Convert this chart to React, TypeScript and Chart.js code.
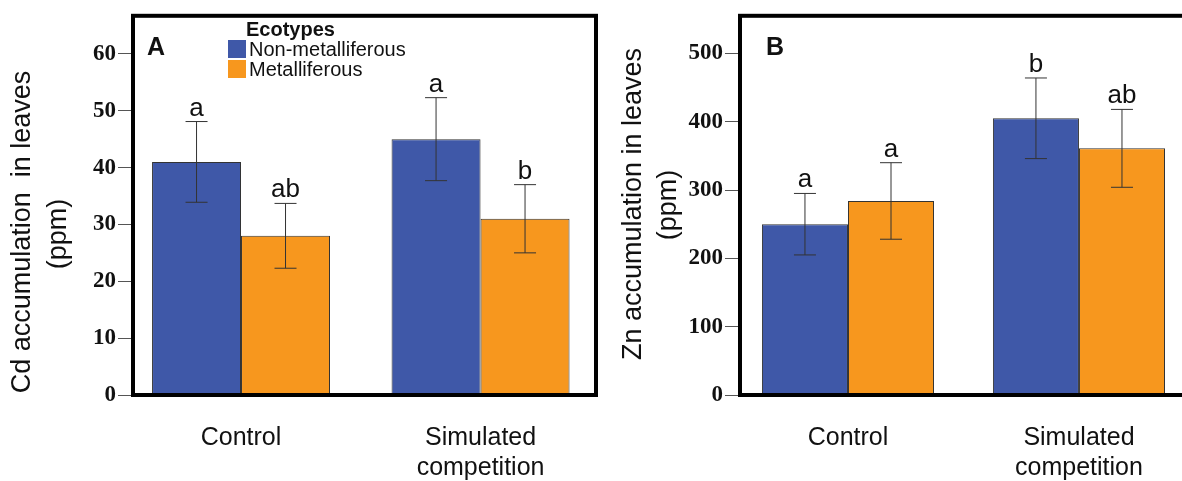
import React, { useEffect, useRef } from "react";
import { Chart, registerables } from "chart.js";

Chart.register(...registerables);

// ---------- Data ----------
const categories: (string | string[])[] = ["Control", ["Simulated", "competition"]];
const seriesNames = ["Non-metalliferous", "Metalliferous"];
const seriesColors = ["#3F58A8", "#F7971E"];

// Panel A: Cd
const cdNonMet = [41, 45];
const cdMet = [28, 31];
const cdNonMetErr = [7.1, 7.3];
const cdMetErr = [5.7, 6.0];
const cdNonMetLetters = ["a", "a"];
const cdMetLetters = ["ab", "b"];
const cdTicks = [0, 10, 20, 30, 40, 50, 60];

// Panel B: Zn
const znNonMet = [250, 405];
const znMet = [284, 361];
const znNonMetErr = [45, 59];
const znMetErr = [56, 57];
const znNonMetLetters = ["a", "b"];
const znMetLetters = ["a", "ab"];
const znTicks = [0, 100, 200, 300, 400, 500];

const SANS = "'Liberation Sans', Arial, sans-serif";
const SERIF = "'Liberation Serif', 'Times New Roman', serif";

type PanelProps = {
  left: number;
  width: number;
  axisWidth: number;
  padRight: number;
  yMax: number;
  xMin: number;
  xMax: number;
  ticks: number[];
  nonMet: number[];
  met: number[];
  nonMetErr: number[];
  metErr: number[];
  nonMetLetters: string[];
  metLetters: string[];
  catPct: number;
  panelLabel: string;
  panelLabelX: number;
  titleLines: string[];
  titleX: number[];
  titleY: number[];
  showLegend: boolean;
};

function Panel(p: PanelProps) {
  const ref = useRef<HTMLCanvasElement | null>(null);
  useEffect(() => {
    if (!ref.current) return;
    const errs = [p.nonMetErr, p.metErr];
    const letters = [p.nonMetLetters, p.metLetters];
    const overlay = {
      id: "overlay",
      afterDatasetsDraw(chart: any) {
        const ctx = chart.ctx;
        const ys = chart.scales.y;
        const area = chart.chartArea;
        ctx.save();
        chart.data.datasets.forEach((ds: any, di: number) => {
          const meta = chart.getDatasetMeta(di);
          meta.data.forEach((bar: any, i: number) => {
            const v = ds.data[i].y;
            const e = errs[di][i];
            const x = bar.x;
            const yTop = ys.getPixelForValue(v + e);
            const yBot = ys.getPixelForValue(v - e);
            ctx.strokeStyle = "#333";
            ctx.lineWidth = 1;
            ctx.beginPath();
            ctx.moveTo(x, yTop);
            ctx.lineTo(x, yBot);
            ctx.moveTo(x - 11, yTop);
            ctx.lineTo(x + 11, yTop);
            ctx.moveTo(x - 11, yBot);
            ctx.lineTo(x + 11, yBot);
            ctx.stroke();
            ctx.fillStyle = "#111";
            ctx.font = `26px ${SANS}`;
            ctx.textAlign = "center";
            ctx.textBaseline = "alphabetic";
            ctx.fillText(letters[di][i], x, yTop - 6);
          });
        });
        // frame
        ctx.strokeStyle = "#000";
        ctx.lineWidth = 4;
        ctx.strokeRect(area.left, area.top, area.right - area.left, area.bottom - area.top);
        ctx.restore();
      },
      afterDraw(chart: any) {
        const ctx = chart.ctx;
        ctx.save();
        // axis titles
        ctx.fillStyle = "#111";
        ctx.font = `27px ${SANS}`;
        ctx.textAlign = "center";
        ctx.textBaseline = "middle";
        p.titleLines.forEach((t, i) => {
          ctx.save();
          ctx.translate(p.titleX[i], p.titleY[i]);
          ctx.rotate(-Math.PI / 2);
          ctx.fillText(t, 0, 0);
          ctx.restore();
        });
        // panel label
        ctx.font = `bold 25px ${SANS}`;
        ctx.textAlign = "left";
        ctx.textBaseline = "middle";
        ctx.fillText(p.panelLabel, p.panelLabelX, 48);
        // legend
        if (p.showLegend) {
          ctx.font = `bold 20px ${SANS}`;
          ctx.fillText("Ecotypes", 246, 30);
          ctx.font = `20px ${SANS}`;
          seriesNames.forEach((n, i) => {
            const y0 = 40 + i * 20;
            ctx.fillStyle = seriesColors[i];
            ctx.fillRect(228, y0, 18, 18);
            ctx.fillStyle = "#111";
            ctx.fillText(n, 249, y0 + 10);
          });
        }
        ctx.restore();
      },
    };

    const mk = (vals: number[]) => vals.map((v, i) => ({ x: i, y: v }));

    const chart = new Chart(ref.current, {
      type: "bar",
      data: {
        datasets: [
          {
            label: seriesNames[0],
            data: mk(p.nonMet),
            backgroundColor: seriesColors[0],
            borderColor: "#333",
            borderWidth: 1,
            barPercentage: 1,
            categoryPercentage: p.catPct,
          },
          {
            label: seriesNames[1],
            data: mk(p.met),
            backgroundColor: seriesColors[1],
            borderColor: "#333",
            borderWidth: 1,
            barPercentage: 1,
            categoryPercentage: p.catPct,
          },
        ],
      },
      options: {
        animation: false,
        responsive: false,
        maintainAspectRatio: false,
        layout: { padding: { top: 12, right: p.padRight, left: 0, bottom: 0 } },
        plugins: { legend: { display: false }, tooltip: { enabled: false }, title: { display: false } },
        scales: {
          x: {
            type: "linear",
            min: p.xMin,
            max: p.xMax,
            offset: false,
            grid: { display: false },
            border: { display: false },
            ticks: {
              font: { family: SANS, size: 25 },
              color: "#111",
              padding: 20,
              maxRotation: 0,
              autoSkip: false,
              callback: (v: any) => categories[Math.round(v)] ?? "",
            },
            afterBuildTicks: (s: any) => {
              s.ticks = categories.map((_, i) => ({ value: i }));
            },
            afterFit: (s: any) => {
              s.height = 86;
            },
          },
          y: {
            type: "linear",
            min: 0,
            max: p.yMax,
            grid: {
              display: true,
              drawOnChartArea: false,
              drawTicks: true,
              tickLength: 15,
              color: "#555",
              lineWidth: 1,
            },
            border: { display: false },
            ticks: {
              font: { family: SERIF, size: 23, weight: "bold" },
              color: "#111",
              padding: 2,
            },
            afterBuildTicks: (s: any) => {
              s.ticks = p.ticks.map((v) => ({ value: v }));
            },
            afterFit: (s: any) => {
              s.width = p.axisWidth;
            },
          },
        },
      } as any,
      plugins: [overlay as any],
    });
    return () => chart.destroy();
  }, []);
  return (
    <canvas
      ref={ref}
      width={p.width}
      height={481}
      style={{ position: "absolute", left: p.left, top: 0, width: p.width, height: 481 }}
    />
  );
}

export default function App() {
  return (
    <div
      style={{
        position: "fixed",
        left: 0,
        top: 0,
        width: 1182,
        height: 481,
        overflow: "hidden",
        background: "#fff",
      }}
    >
      <Panel
        left={0}
        width={600}
        axisWidth={133}
        padRight={4}
        yMax={66.7}
        xMin={-0.451}
        xMax={1.482}
        ticks={cdTicks}
        nonMet={cdNonMet}
        met={cdMet}
        nonMetErr={cdNonMetErr}
        metErr={cdMetErr}
        nonMetLetters={cdNonMetLetters}
        metLetters={cdMetLetters}
        catPct={0.743}
        panelLabel="A"
        panelLabelX={147}
        titleLines={["Cd accumulation  in leaves", "(ppm)"]}
        titleX={[23, 59]}
        titleY={[232, 234]}
        showLegend={true}
      />
      <Panel
        left={600}
        width={610}
        axisWidth={140}
        padRight={7}
        yMax={555}
        xMin={-0.4675}
        xMax={1.537}
        ticks={znTicks}
        nonMet={znNonMet}
        met={znMet}
        nonMetErr={znNonMetErr}
        metErr={znMetErr}
        nonMetLetters={znNonMetLetters}
        metLetters={znMetLetters}
        catPct={0.745}
        panelLabel="B"
        panelLabelX={166}
        titleLines={["Zn accumulation in leaves", "(ppm)"]}
        titleX={[34, 69]}
        titleY={[204, 205]}
        showLegend={false}
      />
    </div>
  );
}
